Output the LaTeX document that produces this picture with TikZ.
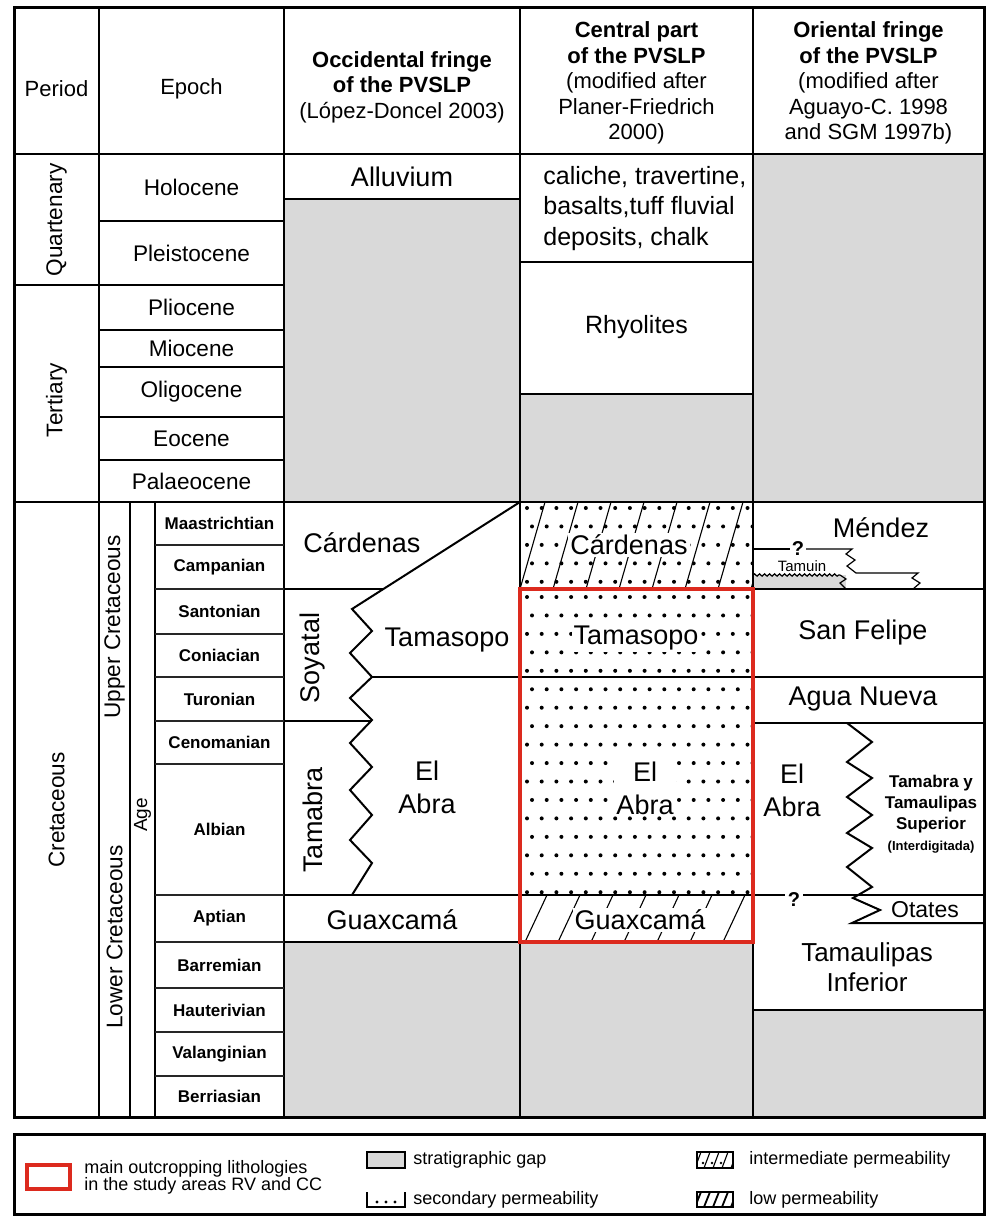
\documentclass[tikz,border=0pt]{standalone}
\usepackage{fontspec}
\setmainfont{Liberation Sans}
\usepackage{tikz}
\usetikzlibrary{decorations.pathmorphing}
\definecolor{gapgray}{HTML}{D9D9D9}
\definecolor{outcropred}{HTML}{DC2A1E}
\tikzset{
  gridline/.style={line width=1pt, black},
  stageline/.style={line width=0.7pt, black!85},
  thinline/.style={line width=0.6pt, black},
  framebox/.style={line width=1.5pt, black},
  hatchline/.style={line width=0.55pt, black},
  outcrop/.style={draw=outcropred, line width=1.6pt},
  headtext/.style={font=\fontsize{11}{12.7}\selectfont, align=center, inner sep=1pt},
  epochtext/.style={font=\fontsize{11.3}{13}\selectfont, inner sep=1pt},
  vlabel/.style={rotate=90, font=\fontsize{11.3}{13}\selectfont, inner sep=1pt},
  stagetext/.style={font=\fontsize{8.5}{10}\selectfont\bfseries, inner sep=1pt},
  unittext/.style={font=\fontsize{13.5}{16.5}\selectfont, align=center, inner sep=1pt},
  unitvert/.style={unittext, rotate=90},
  centtext/.style={font=\fontsize{12.5}{15.3}\selectfont, align=left, inner sep=1pt},
  patchtext/.style={unittext, fill=white},
  smallbold/.style={font=\fontsize{8.5}{10.5}\selectfont\bfseries, align=center, inner sep=1pt},
  tinytext/.style={font=\fontsize{7.5}{8}\selectfont, inner sep=0pt},
  querytext/.style={font=\fontsize{10}{11}\selectfont\bfseries, inner sep=0.5pt},
  legendtext/.style={font=\fontsize{9}{8.5}\selectfont, align=left, anchor=west, inner sep=0pt},
}
% dot pattern of the permeable units: x1, y1, x2, y2, first row
\newcommand{\permdots}[5]{%
  \begin{scope}
    \clip (#1,#2) rectangle (#3,#4);
    \foreach \r in {0,...,17}{
      \foreach \c in {0,...,16}{
        \fill ({#1+7+\c*14.7+mod(\r,2)*5},{#5+\r*18.45}) circle (1pt);
      }
    }
  \end{scope}}

\begin{document}
\begin{tikzpicture}[x=0.5pt, y=-0.5pt]
\useasboundingbox (0,0) rectangle (986,1220);

% Stratigraphic gaps
\fill[gapgray] (284,199) rectangle (520,502);
\fill[gapgray] (284,942) rectangle (520,1117);
\fill[gapgray] (520,394) rectangle (753,502);
\fill[gapgray] (520,942) rectangle (753,1117);
\fill[gapgray] (753,154) rectangle (984,502);
\fill[gapgray] (753,1010) rectangle (984,1117);
\fill[gapgray] (753,575) rectangle (846,589);

% Permeability patterns, central part
\permdots{520}{502}{753}{589}{508}
\permdots{520}{589}{753}{895}{597}
\begin{scope}
  \clip (520,502) rectangle (753,589);
  \foreach \i in {0,...,7} \draw[hatchline] ({520+\i*33},589) -- ({545+\i*33},502);
\end{scope}
\begin{scope}
  \clip (520,895) rectangle (753,942);
  \foreach \i in {0,...,7} \draw[hatchline] ({525+\i*33},942) -- ({547+\i*33},895);
\end{scope}

% Time scale grid
\draw[gridline] (99,8) -- (99,1117);
\draw[gridline] (284,8) -- (284,1117);
\draw[gridline] (520,8) -- (520,1117);
\draw[gridline] (753,8) -- (753,1117);
\draw[gridline] (130,502) -- (130,1117);
\draw[gridline] (155,502) -- (155,1117);
\draw[gridline] (14,154) -- (984,154);
\draw[gridline] (14,285) -- (284,285);
\draw[gridline] (14,502) -- (984,502);
\foreach \y in {221,330,367,417,460} \draw[gridline] (99,\y) -- (284,\y);
\foreach \y in {545,589,634,677,721,764,895,942,988,1032,1076} \draw[stageline] (155,\y) -- (284,\y);

% Occidental fringe
\draw[gridline] (284,199) -- (520,199);
\draw[gridline] (284,589) -- (383,589);
\draw[gridline] (520,502) -- (352,609) -- (372,631) -- (350,653) -- (372,677) -- (350,698)
  -- (372,720) -- (350,743) -- (372,767) -- (350,790) -- (372,815) -- (350,840) -- (372,863) -- (352,895);
\draw[gridline] (372,677) -- (520,677);
\draw[gridline] (284,721) -- (372,721);
\draw[gridline] (284,895) -- (520,895);
\draw[gridline] (284,942) -- (520,942);

% Central part
\draw[gridline] (520,262) -- (753,262);
\draw[gridline] (520,394) -- (753,394);
\draw[gridline] (520,677) -- (753,677);
\draw[gridline] (520,895) -- (753,895);

% Oriental fringe
\draw[gridline] (753,589) -- (984,589);
\draw[gridline] (753,677) -- (984,677);
\draw[gridline] (753,723) -- (984,723);
\draw[gridline] (753,1010) -- (984,1010);
\draw[gridline] (847,723) -- (872,742) -- (847,762) -- (872,778) -- (847,797) -- (872,815) -- (847,833)
  -- (872,848) -- (847,867) -- (872,887) -- (853,898) -- (880,910) -- (852,923) -- (984,923);
\draw[gridline] (753,895) -- (785,895);
\draw[gridline] (803,895) -- (984,895);
\node[querytext] (ori-query) at (794,900) {?};

% Tamuin
\draw[thinline] (753,549) -- (790,549);
\node[querytext] (tamuin-query) at (798,549) {?};
\draw[thinline] (806,549) -- (852,549) -- (846,554) -- (855,560) -- (847,566) -- (856,573) -- (918,573)
  -- (912,578) -- (920,583) -- (913,589);
\draw[thinline, decorate, decoration={snake, amplitude=0.6pt, segment length=2.5pt}] (753,575) -- (840,575);
\draw[thinline] (840,575) -- (846,579) -- (840,583) -- (846,589);

% Frame and outcrop
\draw[framebox] (14,8) rectangle (984,1117);
\draw[outcrop] (520,589) rectangle (753,942);

% Headers
\node[headtext] (period-head) at (56.5,89) {Period};
\node[headtext] (epoch-head) at (191.5,89) {Epoch};
\node[headtext] (occ-head) at (402,87) {\textbf{Occidental fringe}\\\textbf{of the PVSLP}\\(López-Doncel 2003)};
\node[headtext] (cen-head) at (636.5,83) {\textbf{Central part}\\\textbf{of the PVSLP}\\(modified after\\Planer-Friedrich\\2000)};
\node[headtext] (ori-head) at (868.5,83) {\textbf{Oriental fringe}\\\textbf{of the PVSLP}\\(modified after\\Aguayo-C. 1998\\and SGM 1997b)};

% Periods and epochs
\node[vlabel] (quat) at (56.5,220) {Quartenary};
\node[vlabel] (tert) at (56.5,400) {Tertiary};
\node[vlabel] (cret) at (56.5,810) {Cretaceous};
\node[vlabel] (upper-cret) at (114.5,627) {Upper Cretaceous};
\node[vlabel] (lower-cret) at (114.5,937) {Lower Cretaceous};
\node[vlabel, font=\fontsize{9.5}{10}\selectfont] (age-head) at (142.5,815) {Age};
\foreach \ep/\y [count=\i] in {Holocene/187.5, Pleistocene/253, Pliocene/307.5, Miocene/348.5,
    Oligocene/392, Eocene/438.5, Palaeocene/481}
  \node[epochtext] (epoch-\i) at (191.5,\y) {\ep};
\foreach \st/\y [count=\i] in {Maastrichtian/523.5, Campanian/567, Santonian/611.5, Coniacian/655.5,
    Turonian/699, Cenomanian/742.5, Albian/829.5, Aptian/918.5, Barremian/965, Hauterivian/1010,
    Valanginian/1054, Berriasian/1096.5}
  \node[stagetext] (stage-\i) at (219.5,\y) {\st};

% Units, occidental fringe
\node[unittext] (occ-alluvium) at (402,177) {Alluvium};
\node[unittext, anchor=west] (occ-cardenas) at (301,543) {Cárdenas};
\node[unitvert] (occ-soyatal) at (313,658) {Soyatal};
\node[unitvert] (occ-tamabra) at (313,820) {Tamabra};
\node[unittext] (occ-tamasopo) at (447,640) {Tamasopo};
\node[unittext] (occ-elabra) at (427,787) {El\\Abra};
\node[unittext] (occ-guaxcama) at (392,920) {Guaxcamá};

% Units, central part
\node[centtext, anchor=west] (cen-caliche) at (541,208.5) {caliche, travertine,\\basalts,tuff fluvial\\deposits, chalk};
\node[centtext] (cen-rhyolites) at (636.5,327) {Rhyolites};
\node[patchtext] (cen-cardenas) at (629,545) {Cárdenas};
\node[patchtext] (cen-tamasopo) at (636,638) {Tamasopo};
\node[patchtext] (cen-elabra) at (645,788) {El\\Abra};
\node[patchtext] (cen-guaxcama) at (640,920) {Guaxcamá};

% Units, oriental fringe
\node[unittext] (ori-mendez) at (881,528) {Méndez};
\node[tinytext] (ori-tamuin) at (802,566) {Tamuin};
\node[unittext] (ori-sanfelipe) at (863,633) {San Felipe};
\node[unittext] (ori-aguanueva) at (863,699) {Agua Nueva};
\node[unittext] (ori-elabra) at (792,790) {El\\Abra};
\node[smallbold] (ori-tamabra) at (931,814) {Tamabra y\\Tamaulipas\\Superior\\{\fontsize{6.5}{7}\selectfont(Interdigitada)}};
\node[unittext, font=\fontsize{11.5}{13}\selectfont] (ori-otates) at (925,910) {Otates};
\node[unittext, font=\fontsize{13}{15}\selectfont] (ori-tamaulipas) at (867,967) {Tamaulipas\\Inferior};

% Legend
\draw[framebox] (14,1134) rectangle (984,1214);
\draw[outcrop] (27,1165) rectangle (70,1189);
\node[legendtext] (leg-outcrop) at (84,1177) {main outcropping lithologies\\in the study areas RV and CC};
\draw[thinline, fill=gapgray] (367,1152) rectangle (405,1168);
\node[legendtext] (leg-gap) at (413,1160) {stratigraphic gap};
\draw[thinline] (367,1192) -- (367,1207) -- (405,1207) -- (405,1192);
\foreach \x in {377,386,395} \fill (\x,1202) circle (0.8pt);
\node[legendtext] (leg-secondary) at (413,1200) {secondary permeability};
\begin{scope}
  \clip (697,1152) rectangle (733,1168);
  \foreach \i in {0,...,4} \draw[hatchline] ({695+\i*9},1168) -- ({701+\i*9},1152);
  \foreach \x in {703,712,721} \fill (\x,1163) circle (0.7pt);
\end{scope}
\draw[thinline] (697,1152) rectangle (733,1168);
\node[legendtext] (leg-intermediate) at (749,1160) {intermediate permeability};
\begin{scope}
  \clip (697,1192) rectangle (733,1207);
  \foreach \i in {0,...,4} \draw[line width=0.9pt] ({695+\i*9},1207) -- ({701+\i*9},1192);
\end{scope}
\draw[thinline] (697,1192) rectangle (733,1207);
\node[legendtext] (leg-low) at (749,1200) {low permeability};

\end{tikzpicture}
\end{document}
